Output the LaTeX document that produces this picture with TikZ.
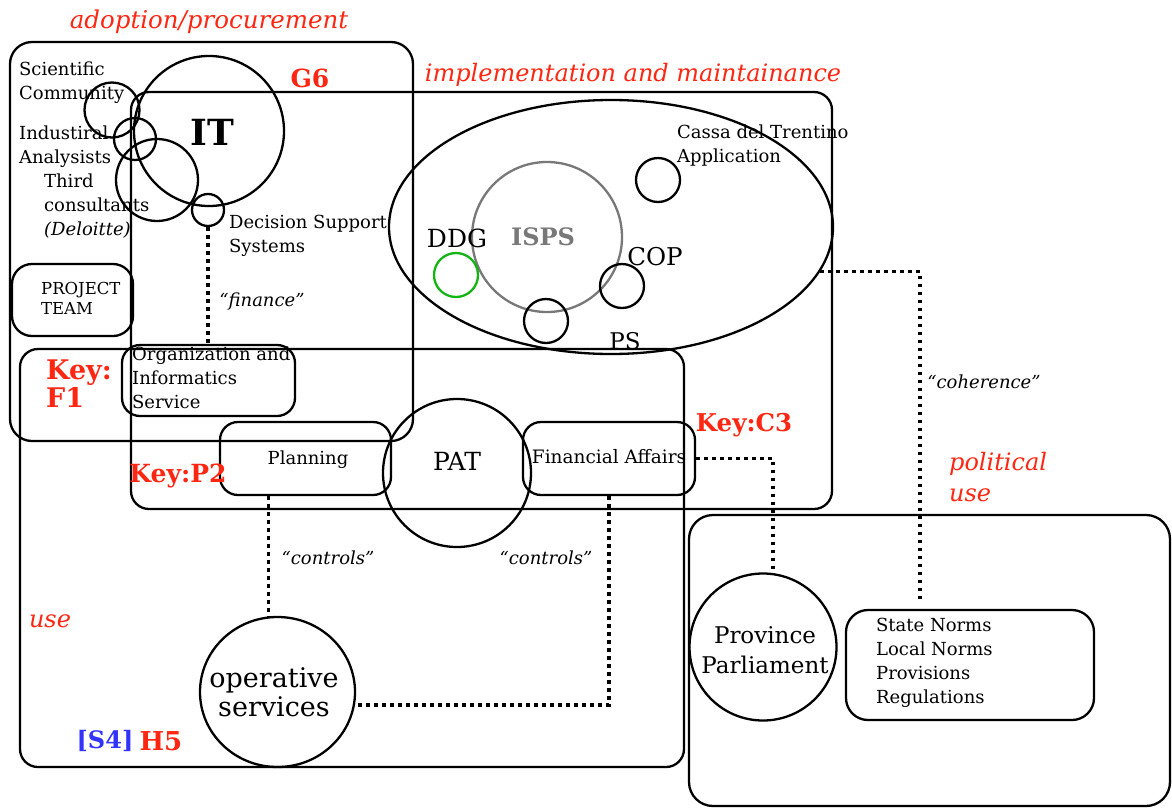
\documentclass[tikz,border=0pt]{standalone}
\usepackage{fontspec}
\setmainfont{DejaVu Serif}
\usetikzlibrary{shapes.geometric,calc}
\definecolor{lblred}{RGB}{255,38,18}
\definecolor{lblblue}{RGB}{51,51,255}
\definecolor{ddggreen}{RGB}{20,180,20}
\definecolor{ispsgray}{RGB}{120,120,120}
\tikzset{
  region/.style={draw, rectangle, rounded corners=#1, inner sep=0pt},
  ring/.style={draw, circle, inner sep=0pt, minimum size=#1},
  oval/.style={draw, ellipse, inner sep=0pt},
  body/.style={font=\fontsize{18}{24}\selectfont, inner sep=0pt, align=left, anchor=north west},
  ctext/.style={inner sep=0pt, align=center},
  redlab/.style={text=lblred, inner sep=0pt},
  quote/.style={font=\fontsize{18}{22}\selectfont\itshape, inner sep=0pt},
  dotline/.style={line width=3.6pt, dash pattern=on 3.6pt off 4.4pt}
}
\begin{document}
\begin{tikzpicture}[x=1pt,y=-1pt,line width=2.3pt]
\useasboundingbox (0,0) rectangle (1172,809);
% regions
\node[region=22pt, minimum width=403pt, minimum height=399pt] (adopt) at (211.5,241.5) {};
\node[region=18pt, minimum width=701pt, minimum height=417pt] (impl) at (481.5,300.5) {};
\node[region=18pt, minimum width=664pt, minimum height=418pt] (usebox) at (352,558) {};
\node[region=24pt, minimum width=481pt, minimum height=291pt] (polit) at (929.5,660.5) {};
% big ellipse and its circles
\node[oval, minimum width=444pt, minimum height=254pt] (bigell) at (611,227) {};
\node[ring=150pt, draw=ispsgray] (isps) at (547,237) {};
\node[ring=44pt, draw=ddggreen] (ddg) at (456,275) {};
\node[ring=44pt] (cassa) at (658,180) {};
\node[ring=44pt] (cop) at (622,286) {};
\node[ring=44pt] (ps) at (546,321) {};
% IT cluster
\node[ring=150pt] (it) at (209,131) {};
\node[ring=55pt] (sci) at (112,110) {};
\node[ring=42pt] (ind) at (135,139) {};
\node[ring=82pt] (third) at (157,180) {};
\node[ring=32pt] (dss) at (208,210) {};
% boxes
\node[region=20pt, minimum width=121pt, minimum height=72pt] (ptbox) at (72.5,300) {};
\node[region=18pt, minimum width=173pt, minimum height=71pt] (org) at (208.5,380.5) {};
\node[region=18pt, minimum width=171pt, minimum height=73pt] (plan) at (305.5,458.5) {};
\node[ring=148pt] (pat) at (457,473) {};
\node[region=18pt, minimum width=172pt, minimum height=73pt] (fin) at (609,458.5) {};
\node[oval, minimum width=155pt, minimum height=150pt] (ops) at (277.5,692) {};
\node[ring=147pt] (parl) at (763,647) {};
\node[region=22pt, minimum width=248pt, minimum height=110pt] (norms) at (970,665) {};
% connectors
\draw[dotline] (dss.south) -- (dss.south |- org.north);
\coordinate (opsTop) at ($(ops.north)+(-9,0.6)$);
\draw[dotline] (opsTop |- plan.south) -- (opsTop);
\draw[dotline] (fin.south) -- ($(fin.south)+(0,209)$) coordinate (fc) -- (fc -| ops.east);
\coordinate (parlTop) at ($(parl.north)+(10,0.7)$);
\draw[dotline] (fin.east) -| (parlTop);
\coordinate (normsTop) at ($(norms.north)+(-50,-10)$);
\draw[dotline] (bigell.-12) -| (normsTop);
% body texts
\node[body] (tSci) at (18,61) {Scientific\\Community};
\node[body] (tInd) at (18,125) {Industiral\\Analysists};
\node[body] (tThird) at (43,173) {Third\\consultants\\\textit{(Deloitte)}};
\node[body] (tDss) at (228,214) {Decision Support\\Systems};
\node[body, font=\fontsize{16.5}{20}\selectfont] (tPT) at (40,281) {PROJECT\\TEAM};
\node[body] (tOrg) at (131,346) {Organization and\\Informatics\\Service};
\node[body] (tCassa) at (676,124) {Cassa del Trentino\\Application};
\node[body] (tNorms) at (875,617) {State Norms\\Local Norms\\Provisions\\Regulations};
% centred texts
\node[ctext, font=\fontsize{36}{40}\selectfont\bfseries] (tIT) at (212,132) {IT};
\node[ctext, font=\fontsize{24}{28}\selectfont\bfseries, text=ispsgray] (tISPS) at (543,237) {ISPS};
\node[ctext, font=\fontsize{25}{28}\selectfont] (tDDG) at (457,238) {DDG};
\node[ctext, font=\fontsize{24.5}{28}\selectfont] (tCOP) at (655,257) {COP};
\node[ctext, font=\fontsize{23}{26}\selectfont] (tPS) at (625,341) {PS};
\node[ctext, font=\fontsize{25}{28}\selectfont] (tPAT) at (457,461) {PAT};
\node[ctext, font=\fontsize{18}{22}\selectfont] (tPlan) at (308,460) {Planning};
\node[ctext, font=\fontsize{18.5}{22}\selectfont] (tFin) at (609,457) {Financial Affairs};
\node[ctext, font=\fontsize{27}{29}\selectfont] (tOps) at (274,692) {operative\\services};
\node[ctext, font=\fontsize{23}{30}\selectfont] (tParl) at (765,650) {Province\\Parliament};
% quotes
\node[quote] (qFin) at (262,302) {“finance”};
\node[quote] (qC1) at (328,558) {“controls”};
\node[quote] (qC2) at (546,558) {“controls”};
\node[quote] (qCoh) at (984,382) {“coherence”};
% red labels
\node[redlab, font=\fontsize{24.5}{28}\selectfont\itshape] (lAdopt) at (209,22) {adoption/procurement};
\node[redlab, font=\fontsize{24}{28}\selectfont\itshape] (lImpl) at (633,75) {implementation and maintainance};
\node[redlab, font=\fontsize{25}{28}\selectfont\bfseries] (lG6) at (310,78) {G6};
\node[redlab, font=\fontsize{27}{28}\selectfont\bfseries, align=left, anchor=west] (lF1) at (45,384) {Key:\\F1};
\node[redlab, font=\fontsize{25}{28}\selectfont\bfseries] (lP2) at (178,476) {Key:P2};
\node[redlab, font=\fontsize{24.5}{28}\selectfont\bfseries] (lC3) at (744,425) {Key:C3};
\node[redlab, font=\fontsize{24}{31}\selectfont\itshape, align=left, anchor=west] (lPol) at (948,477) {political\\use};
\node[redlab, font=\fontsize{24}{28}\selectfont\itshape] (lUse) at (50,621) {use};
\node[inner sep=0pt, text=lblblue, font=\fontsize{24}{28}\selectfont\bfseries] (lS4) at (105,741) {[S4]};
\node[redlab, font=\fontsize{26}{28}\selectfont\bfseries] (lH5) at (161,741) {H5};
\end{tikzpicture}
\end{document}
